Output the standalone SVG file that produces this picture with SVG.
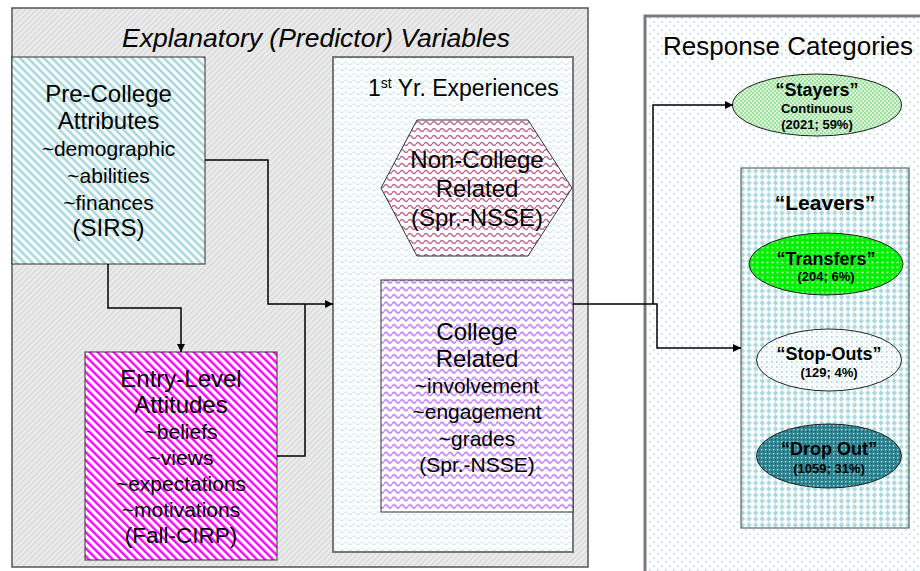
<svg xmlns="http://www.w3.org/2000/svg" width="920" height="571" viewBox="0 0 920 571">
  <defs>
    <!-- fill textures -->
    <pattern id="hatchGray" patternUnits="userSpaceOnUse" width="4" height="4" patternTransform="rotate(45)">
      <rect width="4" height="4" fill="#ececec"/>
      <rect width="1.2" height="4" fill="#d6d6d6"/>
    </pattern>
    <pattern id="stripeCyan" patternUnits="userSpaceOnUse" width="5.66" height="10" patternTransform="rotate(-45)">
      <rect width="5.66" height="10" fill="#ffffff"/>
      <rect width="2.6" height="10" fill="#a9d8dc"/>
    </pattern>
    <pattern id="stripeMagenta" patternUnits="userSpaceOnUse" width="5.66" height="10" patternTransform="rotate(-45)">
      <rect width="5.66" height="10" fill="#ffffff"/>
      <rect width="2.4" height="10" fill="#ff00ff"/>
    </pattern>
    <pattern id="waveCyan" patternUnits="userSpaceOnUse" width="8" height="6">
      <rect width="8" height="6" fill="#ffffff"/>
      <path d="M0,3.5 L2,1.5 L4,3.5 L6,5 L8,3.5" fill="none" stroke="#bfe3e6" stroke-width="1"/>
    </pattern>
    <pattern id="waveViolet" patternUnits="userSpaceOnUse" width="8" height="7.5">
      <rect width="8" height="7.5" fill="#ffffff"/>
      <path d="M0,4 Q2,0.8 4,4 T8,4" fill="none" stroke="#c285f5" stroke-width="1.8"/>
    </pattern>
    <pattern id="waveMauve" patternUnits="userSpaceOnUse" width="8" height="7">
      <rect width="8" height="7" fill="#ffffff"/>
      <path d="M0,4 Q2,1 4,4 T8,4" fill="none" stroke="#bd6a92" stroke-width="1.4"/>
    </pattern>
    <pattern id="dotCyan" patternUnits="userSpaceOnUse" width="8" height="8">
      <rect width="8" height="8" fill="#ffffff"/>
      <rect x="1" y="1" width="1.5" height="2" fill="#b9e0e3"/>
      <rect x="5" y="5" width="1.5" height="2" fill="#b9e0e3"/>
    </pattern>
    <pattern id="dotCyanDense" patternUnits="userSpaceOnUse" width="5" height="5">
      <rect width="5" height="5" fill="#ffffff"/>
      <rect x="1" y="1" width="1.6" height="1.8" fill="#a9d7db"/>
      <rect x="3.5" y="3.5" width="1.2" height="1.2" fill="#c6e6e9"/>
    </pattern>
    <pattern id="diamondCyan" patternUnits="userSpaceOnUse" width="6.6" height="6">
      <rect width="6.6" height="6" fill="#ffffff"/>
      <path d="M3.3,0 L6,3 L3.3,6 L0.6,3 Z" fill="#acd9de"/>
    </pattern>
    <pattern id="checkGreen" patternUnits="userSpaceOnUse" width="4" height="4">
      <rect width="4" height="4" fill="#daf3da"/>
      <rect width="2" height="2" fill="#9fe29f"/>
      <rect x="2" y="2" width="2" height="2" fill="#9fe29f"/>
    </pattern>
    <pattern id="ringGreen" patternUnits="userSpaceOnUse" width="5" height="5">
      <rect width="5" height="5" fill="#00f000"/>
      <circle cx="2.5" cy="2.5" r="1.1" fill="#b0ffb0"/>
    </pattern>
    <pattern id="dotTeal" patternUnits="userSpaceOnUse" width="4" height="4">
      <rect width="4" height="4" fill="#2f8491"/>
      <rect x="1" y="1" width="1.4" height="1.4" fill="#a6dbe1"/>
      <rect x="3" y="3" width="1" height="1" fill="#0d5e6b"/>
    </pattern>
    <marker id="arrow" viewBox="0 0 10 10" refX="10" refY="5" markerWidth="8" markerHeight="8" markerUnits="userSpaceOnUse" orient="auto">
      <path d="M0,0 L10,5 L0,10 Z" fill="#000"/>
    </marker>
    <style>
      .t { font-family: "Liberation Sans", Arial, sans-serif; fill: #000; text-anchor: middle; }
      .h { font-size: 24px; }
      .s { font-size: 21px; }
      .b1 { font-size: 18px; font-weight: bold; }
      .b2 { font-size: 13px; font-weight: bold; }
      .edge { fill: none; stroke: #000; stroke-width: 1.5; }
    </style>
  </defs>

  <!-- predictor panel -->
  <g id="predictors">
    <rect x="12" y="8" width="576" height="559" fill="url(#hatchGray)" stroke="#555" stroke-width="1.5"/>
    <text x="316" y="47" font-family="Liberation Sans, Arial, sans-serif" font-size="26.5" font-style="italic" text-anchor="middle">Explanatory (Predictor) Variables</text>
  </g>

  <!-- response panel -->
  <g id="responses">
    <rect x="645" y="16" width="300" height="600" fill="url(#dotCyan)" stroke="#7a7a7a" stroke-width="3"/>
    <text x="663" y="55" font-family="Liberation Sans, Arial, sans-serif" font-size="26">Response Categories</text>
  </g>

  <g id="pre-college">
    <rect x="12" y="57" width="193" height="207" fill="url(#stripeCyan)" stroke="#333" stroke-width="1"/>
    <text class="t h" x="108.5" y="102">Pre-College</text>
    <text class="t h" x="108.5" y="129">Attributes</text>
    <text class="t s" x="108.5" y="156">~demographic</text>
    <text class="t s" x="108.5" y="183">~abilities</text>
    <text class="t s" x="108.5" y="210">~finances</text>
    <text class="t h" x="108.5" y="236">(SIRS)</text>
  </g>

  <g id="entry-level">
    <rect x="85" y="352" width="192" height="208" fill="url(#stripeMagenta)" stroke="#333" stroke-width="1"/>
    <text class="t h" x="181" y="387">Entry-Level</text>
    <text class="t h" x="181" y="413">Attitudes</text>
    <text class="t s" x="181" y="439">~beliefs</text>
    <text class="t s" x="181" y="465">~views</text>
    <text class="t s" x="181" y="491">~expectations</text>
    <text class="t s" x="181" y="517">~motivations</text>
    <text class="t" x="181" y="543" font-size="22.5">(Fall-CIRP)</text>
  </g>

  <g id="first-year">
    <rect x="333" y="57" width="240" height="495" fill="url(#waveCyan)" stroke="#777" stroke-width="2"/>
    <text x="368" y="96" font-family="Liberation Sans, Arial, sans-serif" font-size="23">1<tspan font-size="14" dy="-8">st</tspan><tspan dy="8"> Yr. Experiences</tspan></text>
  </g>

  <g id="non-college">
    <polygon points="417,120 528,120 572,188 528,256 417,256 381,188" fill="url(#waveMauve)" stroke="#333" stroke-width="1"/>
    <text class="t h" x="477" y="168">Non-College</text>
    <text class="t h" x="477" y="197">Related</text>
    <text class="t h" x="477" y="226">(Spr.-NSSE)</text>
  </g>

  <g id="college">
    <rect x="381" y="280" width="192" height="232" fill="url(#waveViolet)" stroke="#333" stroke-width="1"/>
    <text class="t h" x="477" y="340">College</text>
    <text class="t h" x="477" y="367">Related</text>
    <text class="t s" x="477" y="393">~involvement</text>
    <text class="t s" x="477" y="419">~engagement</text>
    <text class="t s" x="477" y="446">~grades</text>
    <text class="t s" x="477" y="472">(Spr.-NSSE)</text>
  </g>

  <g id="stayers">
    <ellipse cx="817" cy="105" rx="84.5" ry="31" fill="url(#checkGreen)" stroke="#222" stroke-width="1"/>
    <text class="t b1" x="817" y="96">“Stayers”</text>
    <text class="t b2" x="817" y="113">Continuous</text>
    <text class="t b2" x="817" y="129">(2021; 59%)</text>
  </g>

  <g id="leavers">
    <rect x="741" y="168" width="168" height="360" fill="url(#diamondCyan)" stroke="#444" stroke-width="1"/>
    <text class="t" x="825" y="210" font-size="21" font-weight="bold">“Leavers”</text>
  </g>

  <g id="transfers">
    <ellipse cx="826" cy="264" rx="77" ry="31" fill="url(#ringGreen)" stroke="#222" stroke-width="1"/>
    <text class="t b1" x="826" y="265">“Transfers”</text>
    <text class="t b2" x="826" y="281">(204; 6%)</text>
  </g>

  <g id="stop-outs">
    <ellipse cx="829" cy="360" rx="72.5" ry="31" fill="url(#dotCyanDense)" stroke="#222" stroke-width="1"/>
    <text class="t b1" x="829" y="360">“Stop-Outs”</text>
    <text class="t b2" x="829" y="377">(129; 4%)</text>
  </g>

  <g id="drop-out">
    <ellipse cx="829" cy="456" rx="72.5" ry="32" fill="url(#dotTeal)" stroke="#222" stroke-width="1"/>
    <text class="t b1" x="829" y="455">“Drop Out”</text>
    <text class="t b2" x="829" y="473">(1059; 31%)</text>
  </g>

  <!-- connectors -->
  <g id="connectors">
    <polyline class="edge" points="205,160 268,160 268,304 333,304" marker-end="url(#arrow)"/>
    <polyline class="edge" points="277,456 305,456 305,304"/>
    <polyline class="edge" points="108,264 108,308 181,308 181,352" marker-end="url(#arrow)"/>
    <polyline class="edge" points="573,304 657,304 657,348 741,348" marker-end="url(#arrow)"/>
    <polyline class="edge" points="653,304 653,105 733,105" marker-end="url(#arrow)"/>
  </g>
</svg>
